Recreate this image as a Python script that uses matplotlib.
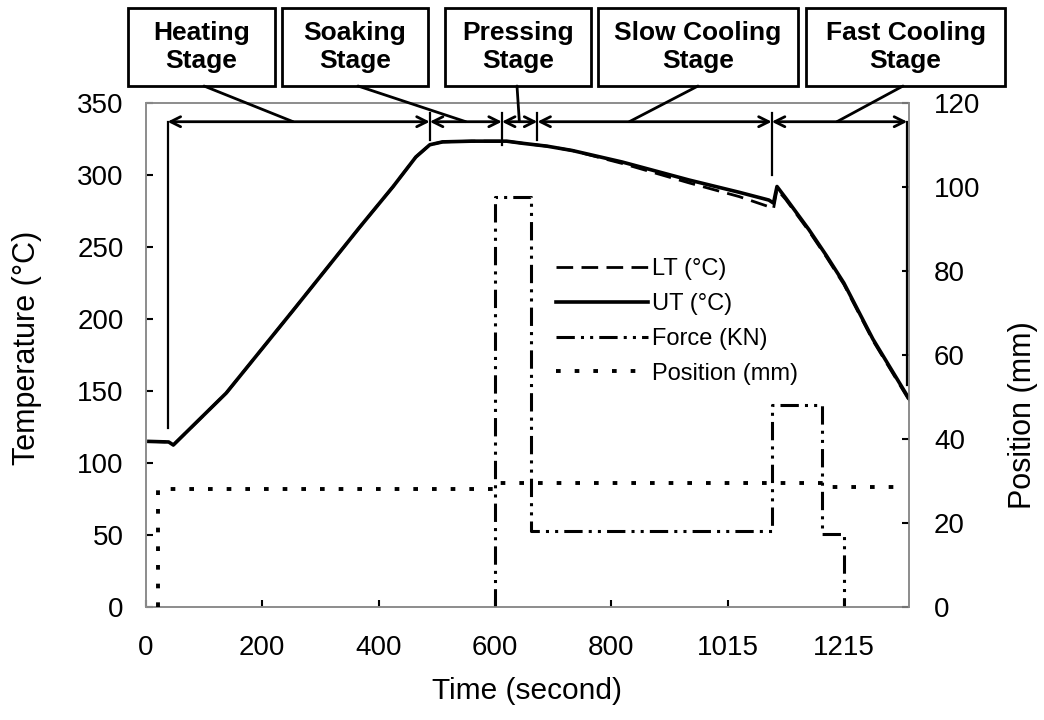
import matplotlib
matplotlib.use('Agg')
import matplotlib.pyplot as plt
from matplotlib.patches import Rectangle, ConnectionPatch
from matplotlib.lines import Line2D

plt.rcParams['font.family'] = ['Liberation Sans', 'DejaVu Sans']

# upper temperature (°C)
ut_time = [5, 39, 47, 138, 253, 368, 425, 464, 488, 510, 560, 620, 648, 690, 733,
           819, 934, 1020, 1071, 1079, 1085, 1100, 1140, 1170, 1200, 1250, 1313]
ut_temp = [115, 114.6, 112.5, 148.6, 206, 264, 292, 312.5, 321, 323, 323.5, 323.5, 322, 320, 317,
           309, 296.5, 288, 282.6, 280.5, 292, 284, 262, 244, 225, 186, 144]

# lower temperature (°C)
lt_time = [5, 39, 47, 138, 253, 368, 425, 464, 488, 510, 560, 620, 648, 690, 733,
           819, 934, 1020, 1071, 1079, 1085, 1100, 1140, 1170, 1200, 1250, 1313]
lt_temp = [115, 114.6, 112.5, 148.6, 206, 264, 292, 312.5, 321, 323, 323.5, 323.5, 322, 320, 317,
           308, 294.5, 285, 278, 276.5, 290, 283, 261, 243, 224, 185, 143]

# force (plotted on the left scale)
force_time = [600, 600, 662, 662, 1077, 1077, 1162, 1162, 1200, 1200]
force_val = [0, 285, 285, 53, 53, 140, 140, 51, 51, 0]

# position (mm, right scale)
pos_time = [20, 20, 600, 600, 1180, 1180, 1295]
pos_val = [0, 28.2, 28.2, 29.6, 29.6, 28.5, 28.5]

xtick_pos = [0, 200, 400, 600, 800, 1000, 1200]
xtick_labels = ['0', '200', '400', '600', '800', '1015', '1215']

# stage brackets
stage_names = ['Heating\nStage', 'Soaking\nStage', 'Pressing\nStage',
               'Slow Cooling\nStage', 'Fast Cooling\nStage']
stage_edges = [37, 488, 612, 673, 1076, 1309]
edge_low = [124, 324, 321, 324, 300, 154]
edge_high = [337, 343, 343, 343, 343, 337]
leader_end = [253, 550, 642, 831, 1188]
arrow_y = 337

W, H = 1044, 720
fig = plt.figure(figsize=(W / 100, H / 100), dpi=100)
ax = fig.add_axes([146 / W, 1 - 607 / H, 763 / W, 504 / H])
ax2 = ax.twinx()

ax.plot(lt_time, lt_temp, color='black', lw=2, dashes=(6, 3), zorder=3)
ax.plot(ut_time, ut_temp, color='black', lw=2.6, zorder=4)
ax.plot(force_time, force_val, color='black', lw=2.2, dashes=(6, 2, 1, 2, 1, 2), zorder=3)
ax2.plot(pos_time, pos_val, color='black', lw=2.8, dashes=(1.2, 3.6), zorder=3)

ax.set_xlim(0, 1312)
ax.set_ylim(0, 350)
ax2.set_ylim(0, 120)
ax.set_xticks(xtick_pos)
ax.set_xticklabels(xtick_labels)
ax.set_yticks(range(0, 351, 50))
ax2.set_yticks(range(0, 121, 20))

for a in (ax, ax2):
    for s in a.spines.values():
        s.set_color('#8c8c8c')
        s.set_linewidth(1.2)
ax.tick_params(axis='both', direction='in', length=5, width=1.5, labelsize=20)
ax.tick_params(axis='y', pad=16)
ax.tick_params(axis='x', pad=20)
ax2.tick_params(axis='y', direction='in', length=5, width=1.5, labelsize=20, pad=18)

ax.set_xlabel('Time (second)', fontsize=21.5, labelpad=12)
ax.set_ylabel('Temperature (°C)', fontsize=22)
ax2.set_ylabel('Position (mm)', fontsize=22)
ax.yaxis.set_label_coords(-0.136, 0.514)
ax2.yaxis.set_label_coords(1.13, 0.38)

# legend
handles = [Line2D([], [], color='black', lw=2, dashes=(6, 3)),
           Line2D([], [], color='black', lw=2.6),
           Line2D([], [], color='black', lw=2.2, dashes=(6, 2, 1, 2, 1, 2)),
           Line2D([], [], color='black', lw=2.8, dashes=(1.2, 3.6))]
ax.legend(handles, ['LT (°C)', 'UT (°C)', 'Force (KN)', 'Position (mm)'],
          loc='upper left', bbox_to_anchor=(0.509, 0.734), frameon=False,
          fontsize=17, handlelength=3.9, handletextpad=0.2, labelspacing=0.54)

# stage arrows
for i in range(len(stage_names)):
    ax.annotate('', xy=(stage_edges[i], arrow_y), xytext=(stage_edges[i + 1], arrow_y),
                arrowprops=dict(arrowstyle='<->', lw=2, color='black', mutation_scale=18,
                                shrinkA=0, shrinkB=0), annotation_clip=False)
for x, lo, hi in zip(stage_edges, edge_low, edge_high):
    ax.plot([x, x], [lo, hi], color='black', lw=1.6, clip_on=False)

# stage boxes
box_left = [128, 282, 445, 598, 806]
box_right = [275, 428, 591, 798, 1005]
box_top, box_bot = 8, 86
leader_start = [204, 358, 517, 698, 903]
for name, l, r, ls, le in zip(stage_names, box_left, box_right, leader_start, leader_end):
    fig.add_artist(Rectangle((l / W, 1 - box_bot / H), (r - l) / W, (box_bot - box_top) / H,
                             transform=fig.transFigure, fill=False, lw=2, ec='black'))
    fig.text((l + r) / 2 / W, 1 - (box_top + box_bot) / 2 / H, name, ha='center', va='center',
             fontsize=19, fontweight='bold', linespacing=1.2)
    fig.add_artist(ConnectionPatch(xyA=(ls / W, 1 - box_bot / H), coordsA='figure fraction',
                                   xyB=(le, arrow_y), coordsB=ax.transData, lw=2, color='black'))

fig.savefig('out.png', dpi=100)
